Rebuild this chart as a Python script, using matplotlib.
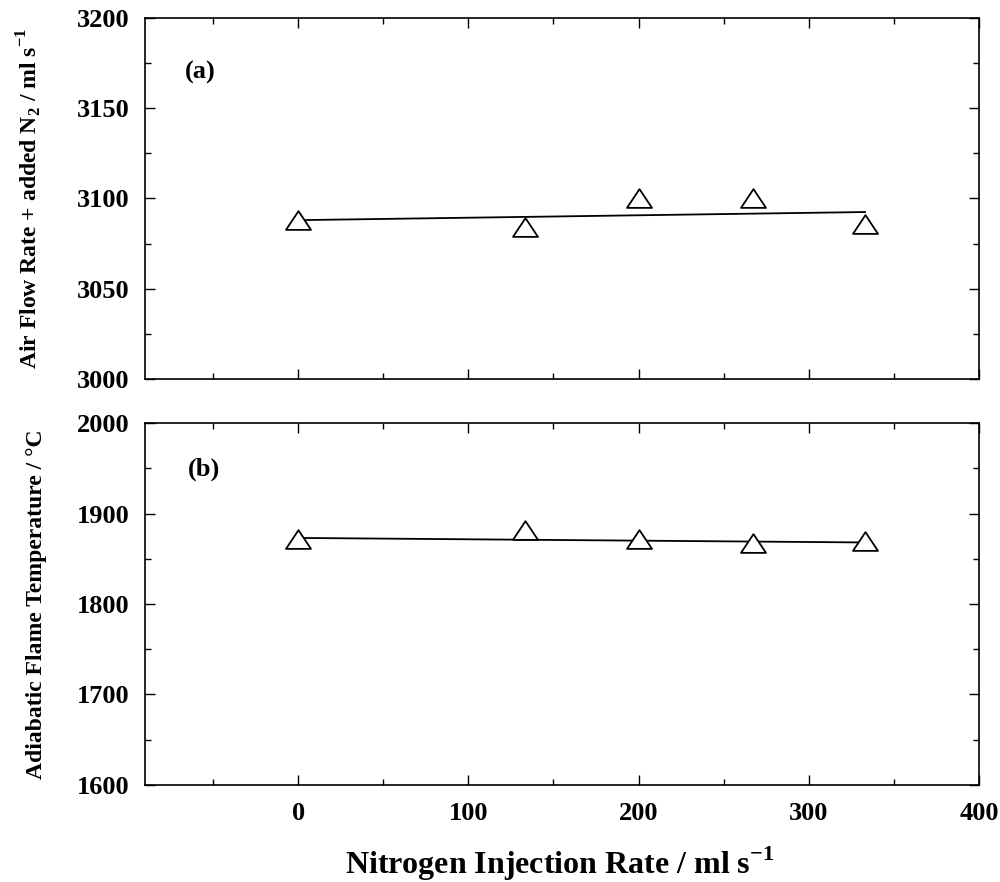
import matplotlib.pyplot as plt
from matplotlib.ticker import MultipleLocator
from matplotlib.path import Path

plt.rcParams['font.family'] = ['Liberation Serif', 'DejaVu Serif']
plt.rcParams['font.weight'] = 'bold'
plt.rcParams['mathtext.fontset'] = 'custom'
plt.rcParams['mathtext.rm'] = 'Liberation Serif:bold'
plt.rcParams['mathtext.bf'] = 'Liberation Serif:bold'

# nitrogen injection rate (ml/s)
n2_rate = [0, 133, 200, 267, 333]
# (a) air flow + added N2 (ml/s)
air_flow = [3088, 3084, 3100, 3100, 3086]
air_fit = [3088, 3092.5]
# (b) adiabatic flame temperature (C)
flame_temp = [1872, 1882, 1872, 1867, 1870]
temp_fit = [1873, 1868]
fit_x = [0, 333]

# flattened open triangle
tri = Path([(0, 0.75), (-1, -0.75), (1, -0.75), (0, 0.75)], closed=True)

fig = plt.figure(figsize=(10, 8.82), dpi=100)
ax1 = fig.add_axes([0.145, 0.5703, 0.834, 0.4093])
ax2 = fig.add_axes([0.145, 0.110, 0.834, 0.4104])

for ax in (ax1, ax2):
    for s in ax.spines.values():
        s.set_linewidth(1.2)
    ax.set_xlim(-90, 400)
    ax.xaxis.set_major_locator(MultipleLocator(100))
    ax.xaxis.set_minor_locator(MultipleLocator(50))
    ax.tick_params(which='both', direction='in', top=True, right=True, width=1.0)
    ax.tick_params(which='major', length=7, labelsize=19)
    ax.tick_params(which='minor', length=4)
    ax.tick_params(axis='y', pad=11)
    ax.tick_params(axis='x', pad=12)

# top panel
ax1.plot(fit_x, air_fit, color='black', lw=1.3)
ax1.plot(n2_rate, air_flow, linestyle='none', marker=tri, markersize=18,
         markerfacecolor='white', markeredgecolor='black', markeredgewidth=1.3)
ax1.set_ylim(3000, 3200)
ax1.yaxis.set_major_locator(MultipleLocator(50))
ax1.yaxis.set_minor_locator(MultipleLocator(25))
ax1.tick_params(axis='x', labelbottom=False)
ax1.set_ylabel(r'Air Flow Rate + added N$_2$ / ml s$^{-1}$', fontsize=17, fontweight='bold')
ax1.yaxis.set_label_coords(-0.121, 0.5)
ax1.text(0.048, 0.85, '(a)', transform=ax1.transAxes, fontsize=19, fontweight='bold', va='center')

# bottom panel
ax2.plot(fit_x, temp_fit, color='black', lw=1.3)
ax2.plot(n2_rate, flame_temp, linestyle='none', marker=tri, markersize=18,
         markerfacecolor='white', markeredgecolor='black', markeredgewidth=1.3)
ax2.set_ylim(1600, 2000)
ax2.yaxis.set_major_locator(MultipleLocator(100))
ax2.yaxis.set_minor_locator(MultipleLocator(50))
ax2.set_ylabel('Adiabatic Flame Temperature / °C', fontsize=17, fontweight='bold')
ax2.yaxis.set_label_coords(-0.117, 0.5)
ax2.text(0.052, 0.873, '(b)', transform=ax2.transAxes, fontsize=19, fontweight='bold', va='center')

fig.text(0.56, 1 - 864 / 882, r'Nitrogen Injection Rate / ml s$^{-1}$', fontsize=23,
         fontweight='bold', ha='center', va='center')

fig.savefig('out.png', dpi=100)
